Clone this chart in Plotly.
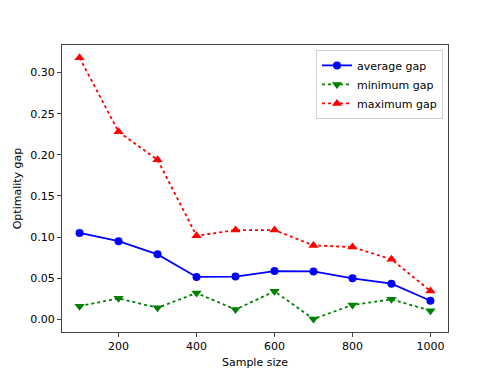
import plotly.graph_objects as go

# data
sample_size = [100, 200, 300, 400, 500, 600, 700, 800, 900, 1000]
avg_gap = [0.105, 0.095, 0.079, 0.0515, 0.052, 0.0587, 0.0583, 0.0498, 0.0433, 0.0226]
min_gap = [0.016, 0.0255, 0.014, 0.032, 0.012, 0.034, 0.0005, 0.0174, 0.0243, 0.0105]
max_gap = [0.318, 0.228, 0.194, 0.1016, 0.1085, 0.1085, 0.0899, 0.0878, 0.0729, 0.0344]

FONT = dict(family="DejaVu Sans, sans-serif", size=11, color="black")

fig = go.Figure()
fig.add_trace(go.Scatter(
    x=sample_size, y=avg_gap, name="average gap",
    mode="lines+markers",
    line=dict(color="#0000ff", width=1.8),
    marker=dict(symbol="circle", size=8, color="#0000ff"),
))
fig.add_trace(go.Scatter(
    x=sample_size, y=min_gap, name="minimum gap",
    mode="lines+markers",
    line=dict(color="#008000", width=1.8, dash="dot"),
    marker=dict(symbol="triangle-down", size=9, color="#008000"),
))
fig.add_trace(go.Scatter(
    x=sample_size, y=max_gap, name="maximum gap",
    mode="lines+markers",
    line=dict(color="#ff0000", width=1.8, dash="dot"),
    marker=dict(symbol="triangle-up", size=9, color="#ff0000"),
))

_axis = dict(
    showline=True, linecolor="#444444", linewidth=1, mirror=True,
    ticks="outside", ticklen=4, tickcolor="#444444",
    showgrid=False, zeroline=False, automargin=False,
    tickfont=FONT,
)

fig.update_layout(
    width=498, height=374,
    paper_bgcolor="white", plot_bgcolor="white",
    font=FONT,
    margin=dict(l=62, r=50, t=45, b=42),
    xaxis=dict(
        **_axis, range=[55, 1045],
        tickvals=[200, 400, 600, 800, 1000],
        title=dict(text="Sample size", font=FONT, standoff=6),
    ),
    yaxis=dict(
        **_axis, range=[-0.0154, 0.3335],
        tickvals=[0, 0.05, 0.10, 0.15, 0.20, 0.25, 0.30], tickformat=".2f",
        title=dict(text="Optimality gap", font=FONT, standoff=6),
    ),
    legend=dict(
        x=0.987, y=0.983, xanchor="right", yanchor="top",
        bordercolor="#d0d0d0", borderwidth=1, bgcolor="rgba(255,255,255,0.8)",
        font=FONT, tracegroupgap=0, itemwidth=30,
    ),
    showlegend=True,
)

# drop the default 8px body margin so the figure sits at the page origin
fig.write_html(
    "out.html",
    config={"displayModeBar": False},
    post_script="document.body.style.margin='0';",
)
